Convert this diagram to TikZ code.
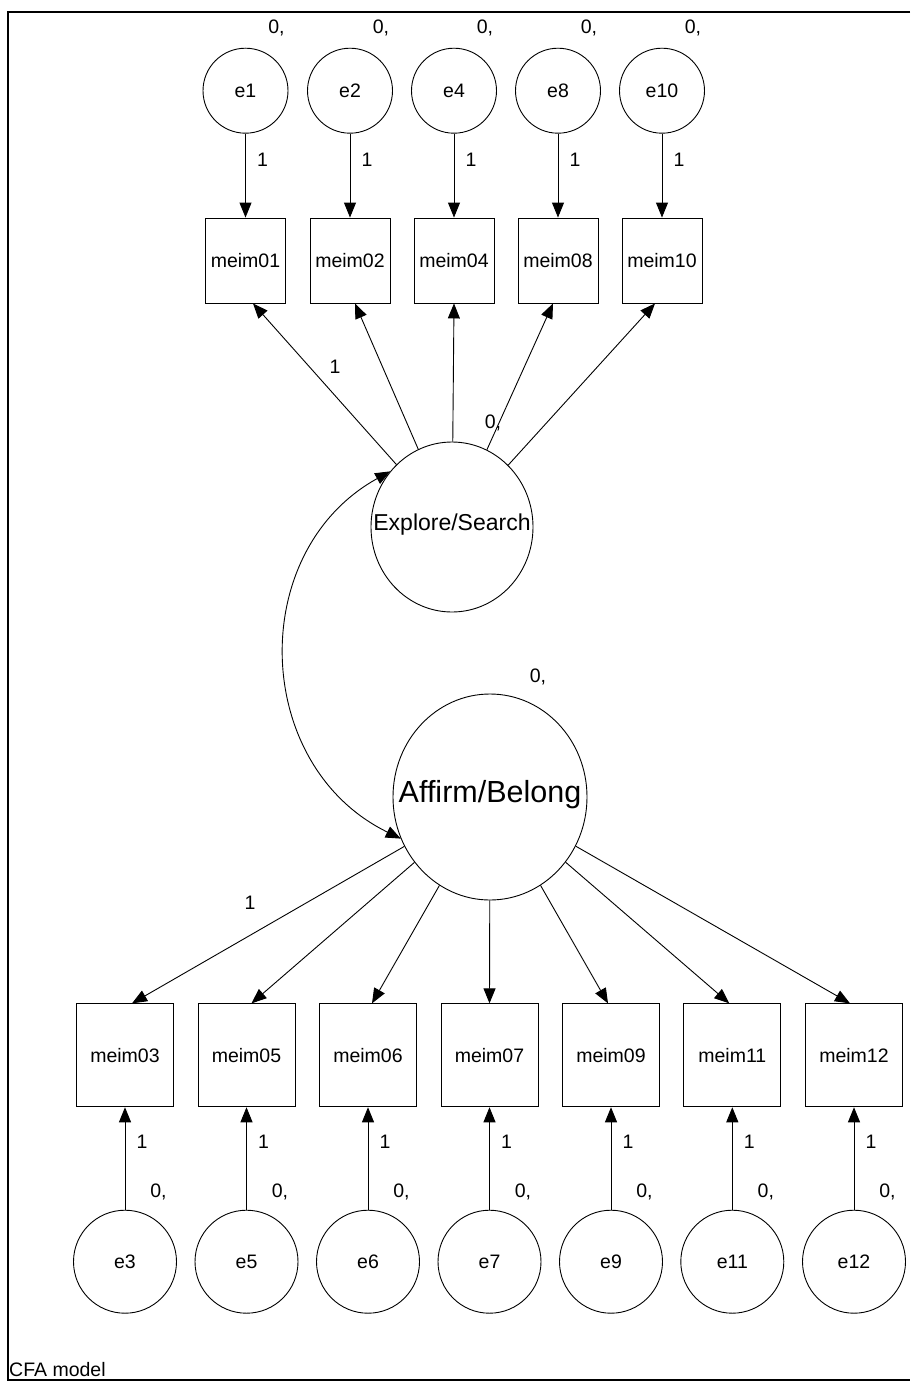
\documentclass[tikz,border=0pt]{standalone}
\usepackage{fontspec}
\setmainfont{Liberation Sans}
\usetikzlibrary{arrows.meta,shapes.geometric}
\begin{document}
\begin{tikzpicture}[x=1pt,y=1pt,
  lw/.style={line width=0.9pt},
  txt/.style={font=\fontsize{19.5}{22}\selectfont},
  obsbox/.style={draw,lw,rectangle,inner sep=0pt,txt},
  errc/.style={draw,lw,circle,inner sep=0pt,txt},
  latent/.style={draw,lw,ellipse,inner sep=0pt},
  lab/.style={inner sep=0pt,txt},
  conn/.style={lw,-{Triangle[length=15pt,width=12pt]}},
  cov/.style={lw,{Triangle[length=15pt,width=12pt]}-{Triangle[length=15pt,width=12pt]}},
  frameline/.style={line width=1.3pt}
]
\useasboundingbox (0,0) rectangle (910,-1381);
\draw[frameline] (910,-12) -- (8,-12) -- (8,-1380) -- (910,-1380);

% latent variables
\node[latent, minimum width=162pt, minimum height=170pt] (ES) at (452,-527) {};
\node[inner sep=0pt, font=\fontsize{23}{26}\selectfont] (EStext) at (452,-525) {Explore/Search};
\node[latent, minimum width=194pt, minimum height=206pt] (AB) at (490,-797) {};
\node[inner sep=0pt, font=\fontsize{30.5}{34}\selectfont] (ABtext) at (490,-795) {Affirm/Belong};
\node[lab] (ABvar) at (538,-677) {0,};
\node[lab] (ESvar) at (493,-423) {0,};
\node[lab] (ESfix) at (335,-367) {1};
\node[lab] (ABfix) at (250,-903) {1};

% top indicators
\foreach \n/\m/\x/\s in {1/01/245.5/7.5, 2/02/350/5, 4/04/454/0, 8/08/558/-5, 10/10/662/-7}{
  \node[errc, minimum size=85pt] (e\n) at (\x,-90.7) {e\n};
  \node[obsbox, minimum width=80pt, minimum height=85pt] (m\m) at (\x,-260.5) {meim\m};
  \draw[conn] (e\n) -- (m\m);
  \draw[conn] (ES) -- ([xshift=\s pt]m\m.south);
  \node[lab] (v\n) at (\x+31,-28) {0,};
  \node[lab] (w\n) at (\x+17,-160) {1};
}

% bottom indicators
\foreach \n/\m/\x/\s in {3/03/125/7, 5/05/246.5/5, 6/06/368/4, 7/07/489.5/0, 9/09/611/-3, 11/11/732.3/-3, 12/12/854/-4}{
  \node[obsbox, minimum width=97pt, minimum height=103pt] (m\m) at (\x,-1055.3) {meim\m};
  \node[errc, minimum size=103pt] (e\n) at (\x,-1261.7) {e\n};
  \draw[conn] (e\n) -- (m\m);
  \draw[conn] (AB) -- ([xshift=\s pt]m\m.north);
  \node[lab] (v\n) at (\x+33.5,-1192) {0,};
  \node[lab] (w\n) at (\x+17,-1142) {1};
}

% covariance
\draw[cov] (ES.138) to[out=209,in=154,looseness=1.15] (AB.205);

\node[lab, anchor=west] (cfa) at (9,-1370) {CFA model};
\end{tikzpicture}
\end{document}
